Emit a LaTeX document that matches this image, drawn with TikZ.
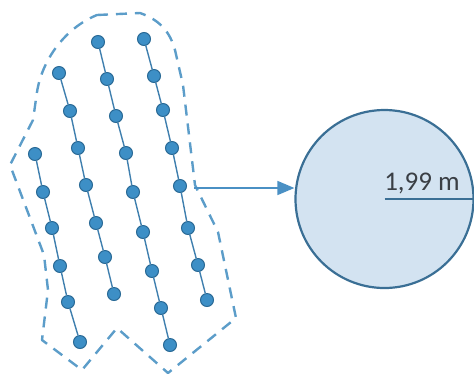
\documentclass[tikz,border=0pt]{standalone}
\usepackage{fontspec}
\setmainfont{Carlito}
\usetikzlibrary{arrows.meta}
\definecolor{dotfill}{HTML}{3D8FC6}
\definecolor{dotedge}{HTML}{2A6A96}
\definecolor{chainline}{HTML}{3F7FAE}
\definecolor{outline}{HTML}{5C9DC9}
\definecolor{discfill}{HTML}{D3E3F1}
\definecolor{discedge}{HTML}{3A6F95}
\definecolor{arrowcol}{HTML}{4A90C4}
\definecolor{labelcol}{HTML}{3A3F45}
\tikzset{
  bead/.style={circle, minimum size=13pt, inner sep=0pt, fill=dotfill, draw=dotedge, line width=1pt},
  chain/.style={chainline, line width=1.4pt},
  hull/.style={outline, line width=2.4pt, dash pattern=on 11pt off 8pt, line join=round},
  disc/.style={circle, minimum size=178pt, inner sep=0pt, fill=discfill, draw=discedge, line width=2.2pt},
  pointer/.style={arrowcol, line width=1.5pt, -{Triangle[length=17pt, width=14pt]}},
}
\begin{document}
\begin{tikzpicture}[x=1pt, y=-1pt]
\useasboundingbox (0,0) rectangle (474,376);

% dashed boundary around the rows
\draw[hull] (97,15) -- (140,13) .. controls (160,20) and (170,32) .. (175,50)
  -- (183,85) -- (195,185) -- (218,232) -- (236,318) -- (168,373)
  -- (117,328) -- (82,370) -- (42,340) -- (48,290) -- (44,255) -- (10,165)
  -- (33,120) -- (37,92) .. controls (42,60) and (65,28) .. (97,15);

% four rows of beads
\foreach \x/\y [count=\i] in {35/154, 43/192, 52/228, 60/266, 68/302, 80/342}
  \node[bead] (a\i) at (\x,\y) {};
\foreach \x/\y [count=\i] in {59/73, 70/111, 78/148, 86/185, 96/223, 105/257, 114/294}
  \node[bead] (b\i) at (\x,\y) {};
\foreach \x/\y [count=\i] in {98/42, 107/79, 116/116, 126/153, 133/192, 143/232, 152/271, 161/308, 170/345}
  \node[bead] (c\i) at (\x,\y) {};
\foreach \x/\y [count=\i] in {144/39, 154/76, 163/110, 172/148, 180/186, 188/228, 198/265, 207/300}
  \node[bead] (d\i) at (\x,\y) {};

% links along each row
\foreach \p/\q in {1/2, 2/3, 3/4, 4/5, 5/6} \draw[chain] (a\p) -- (a\q);
\foreach \p/\q in {1/2, 2/3, 3/4, 4/5, 5/6, 6/7} \draw[chain] (b\p) -- (b\q);
\foreach \p/\q in {1/2, 2/3, 3/4, 4/5, 5/6, 6/7, 7/8, 8/9} \draw[chain] (c\p) -- (c\q);
\foreach \p/\q in {1/2, 2/3, 3/4, 4/5, 5/6, 6/7, 7/8} \draw[chain] (d\p) -- (d\q);

% enlarged cross-section
\node[disc] (disc) at (384.5,199) {};
\coordinate (start) at (194,188);
\draw[pointer] (start) -- (disc.west |- start);
\draw[discedge, line width=1.6pt] (disc.center) -- (disc.east);
\node[labelcol, font=\fontsize{27}{30}\selectfont, anchor=base] (radius) at (422,190) {1,99 m};
\end{tikzpicture}
\end{document}
